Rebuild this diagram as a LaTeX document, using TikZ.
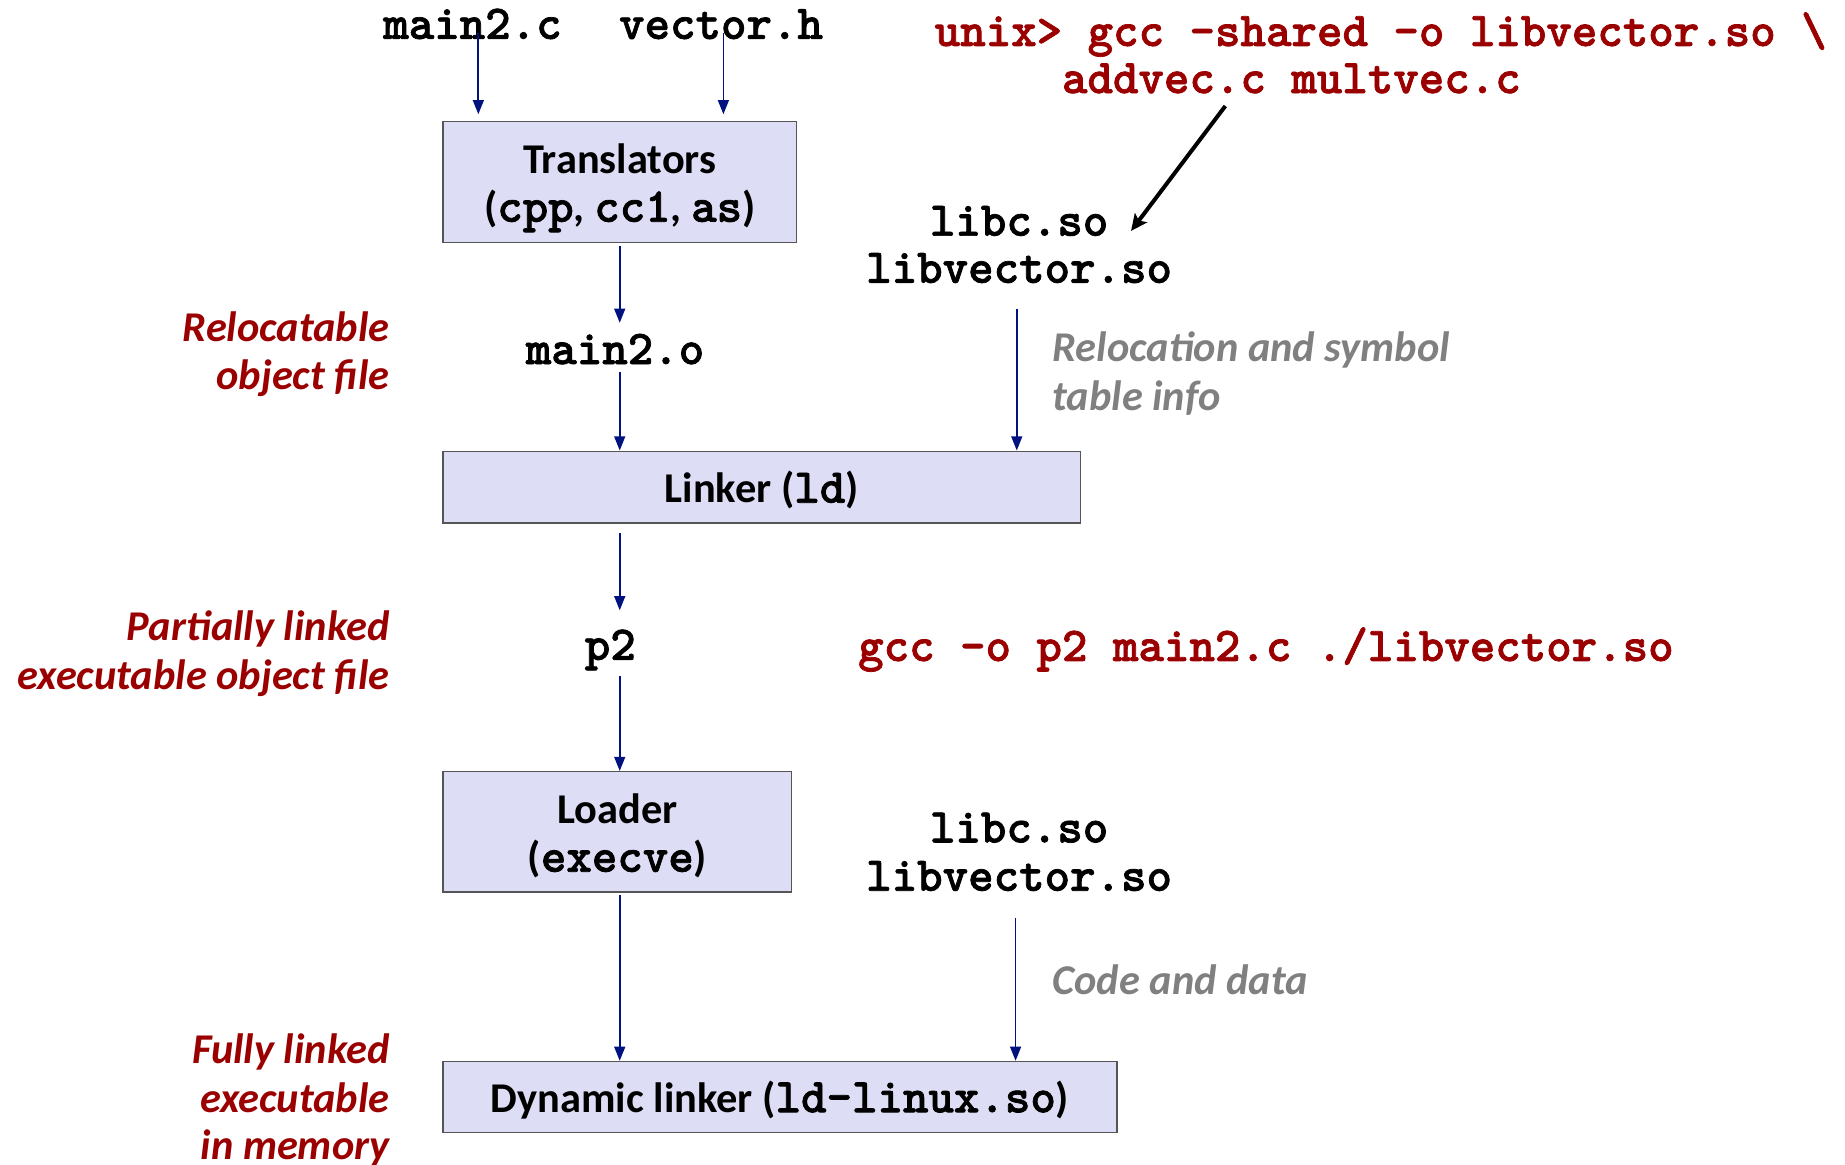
\documentclass[tikz,border=0pt]{standalone}
\usepackage{fontspec}
\setmainfont{Carlito}
\newfontfamily\cmono{lmmonolt10-bold.otf}[FakeBold=1.5]
\usetikzlibrary{arrows.meta}
\definecolor{redc}{RGB}{155,0,0}
\definecolor{navyc}{RGB}{0,18,128}
\definecolor{grayc}{RGB}{128,128,128}
\definecolor{boxfill}{RGB}{221,221,245}
\definecolor{boxline}{RGB}{85,85,85}
\newcommand\tm[1]{{\cmono\fontsize{20.6}{20.5}\selectfont #1}}
\newcommand\sfbig{\fontsize{18}{20.5}\selectfont\bfseries}
\tikzset{
  arr/.style={draw=navyc, line width=0.75pt, -{Triangle[length=6pt,width=4.6pt]}},
  blk/.style={draw=black, line width=1.7pt, -{Stealth[length=7pt,width=6.5pt,inset=1.5pt]}},
  box/.style={draw=boxline, fill=boxfill, line width=0.6pt, inner sep=0pt},
  boxtext/.style={inner sep=0pt, align=center, font=\sfbig},
  code/.style={inner sep=0pt, font=\cmono\fontsize{20.6}{20.5}\selectfont},
  rcode/.style={code, text=redc},
  rlab/.style={inner sep=0pt, text=redc, font=\sfbig\itshape, anchor=base east},
  glab/.style={inner sep=0pt, text=grayc, font=\sfbig\itshape, anchor=base west},
}
\begin{document}
\begin{tikzpicture}[x=0.5pt,y=-0.5pt]
\useasboundingbox (0,0) rectangle (1566,988.8);
% top inputs
\node[code, anchor=base] (m2c) at (401,33) {main2.c};
\node[code, anchor=base] (vh) at (612,33) {vector.h};
% red command
\node[rcode, anchor=base west] (cmd1) at (793,39) {unix> gcc -shared -o libvector.so \textbackslash};
\node[rcode, anchor=base west] (cmd2) at (901,79) {addvec.c multvec.c};
% boxes
\node[box, minimum width=150pt, minimum height=51.5pt] (trans) at (526,154.5) {};
\node[boxtext] (transt) at (526,159.5) {Translators\\(\tm{cpp}, \tm{cc1}, \tm{as})};
\node[box, minimum width=270.5pt, minimum height=30.5pt] (linker) at (646.5,413.5) {};
\node[boxtext] (linkert) at (646.5,416) {Linker (\tm{ld})};
\node[box, minimum width=148pt, minimum height=51pt] (loader) at (524,706) {};
\node[boxtext] (loadert) at (524,709.5) {Loader\\(\tm{execve})};
\node[box, minimum width=286pt, minimum height=30pt] (dyn) at (662,931) {};
\node[boxtext] (dynt) at (662,933.5) {Dynamic linker (\tm{ld-linux.so})};
% intermediate files
\node[code, anchor=base] (m2o) at (522,309) {main2.o};
\node[code, anchor=base] (p2) at (518,560) {p2};
\node[rcode, anchor=base west] (gcc2) at (728,561) {gcc –o p2 main2.c ./libvector.so};
% shared libs
\node[code, anchor=base] (libc1) at (865,200) {libc.so};
\node[code, anchor=base] (libv1) at (865,240) {libvector.so};
\node[code, anchor=base] (libc2) at (865,715) {libc.so};
\node[code, anchor=base] (libv2) at (865,756) {libvector.so};
% gray notes
\node[glab] (rel1) at (893,307) {Relocation and symbol};
\node[glab] (rel2) at (893,348) {table info};
\node[glab] (cad) at (893,844) {Code and data};
% left labels
\node[rlab] (l1a) at (331,290) {Relocatable};
\node[rlab] (l1b) at (331,331) {object file};
\node[rlab] (l2a) at (331,544) {Partially linked};
\node[rlab] (l2b) at (331,585) {executable object file};
\node[rlab] (l3a) at (331,903) {Fully linked};
\node[rlab] (l3b) at (331,944) {executable};
\node[rlab] (l3c) at (331,984) {in memory};
% connector end points
\coordinate (s1) at (406,28);
\coordinate (e1) at (406,97);
\coordinate (s2) at (614,28);
\coordinate (e2) at (614,97);
\coordinate (e3) at (526,274);
\coordinate (s4) at (526,316);
\coordinate (s5) at (863,262);
\coordinate (s6) at (526,452);
\coordinate (e6) at (526,518);
\coordinate (s7) at (526,574);
\coordinate (s9) at (862,779);
\coordinate (sb) at (1040,90);
\coordinate (eb) at (960,196);
% connectors
\draw[arr] (s1) -- (e1);
\draw[arr] (s2) -- (e2);
\draw[arr] ([yshift=-1pt]trans.south) -- (e3);
\draw[arr] (s4) -- (s4 |- linker.north);
\draw[arr] (s5) -- (s5 |- linker.north);
\draw[arr] (s6) -- (e6);
\draw[arr] (s7) -- (s7 |- loader.north);
\draw[arr] ([yshift=-1pt]loader.south -| s7) -- (s7 |- dyn.north);
\draw[arr] (s9) -- (s9 |- dyn.north);
\draw[blk] (sb) -- (eb);
\end{tikzpicture}
\end{document}
